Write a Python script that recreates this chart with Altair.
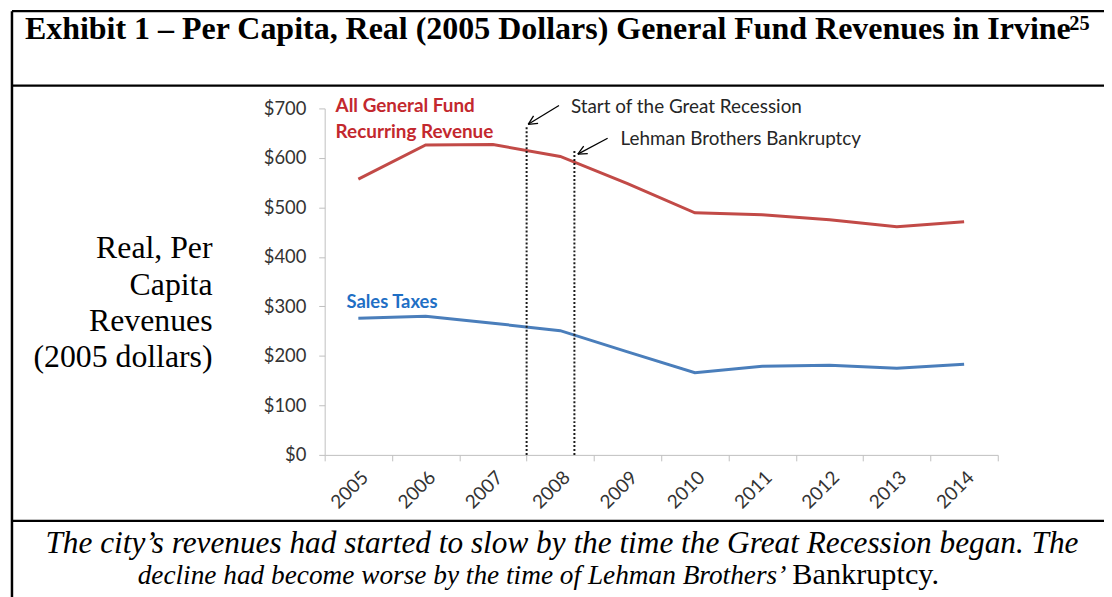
import math
import altair as alt
import pandas as pd

# ---------------- data ----------------
years = ["2005", "2006", "2007", "2008", "2009", "2010", "2011", "2012", "2013", "2014"]
general_fund = [557, 626, 627, 603, 548, 489, 485, 475, 461, 471]
sales_taxes = [276, 280, 266, 251, 208, 166, 179, 181, 175, 183]
series_names = ["All General Fund Recurring Revenue", "Sales Taxes"]
y_ticks = [0, 100, 200, 300, 400, 500, 600, 700]

event_names = ["Start of the Great Recession", "Lehman Brothers Bankruptcy"]
event_year = ["2008", "2008"]
event_band = [0.0, 0.71]      # fraction of the year
event_top = [662, 618]

title_text = "Exhibit 1 \u2013 Per Capita, Real (2005 Dollars) General Fund Revenues in Irvine"
title_note = "25"
ytitle_lines = ["Real, Per", "Capita", "Revenues", "(2005 dollars)"]
caption_1 = "The city\u2019s revenues had started to slow by the time the Great Recession began. The"
caption_2a = "decline had become worse by the time of Lehman Brothers\u2019"
caption_2b = "Bankruptcy."

# ---------------- layout ----------------
W, H = 678, 349
PL, PT = 319, 99
PR = 1104 - PL - W
PB = 589 - PT - H

RED, BLUE = "#C24A47", "#4A7EBB"
RED_T, BLUE_T = "#C3282E", "#1F6FC5"
SANS = "Lato"
SERIF = "Liberation Serif"

df = pd.DataFrame({
    "year": years * 2,
    "value": general_fund + sales_taxes,
    "series": [series_names[0]] * len(years) + [series_names[1]] * len(years),
})

xscale = alt.Scale(type="band", domain=years, paddingInner=0, paddingOuter=0)
yscale = alt.Scale(domain=[0, 700], nice=False)

lines = alt.Chart(df).mark_line(strokeWidth=3).encode(
    x=alt.X("year:O", scale=xscale, bandPosition=0.5,
            axis=alt.Axis(title=None, labelAngle=-45, tickBand="extent",
                          labelFont=SANS, labelFontSize=19, labelColor="#333333",
                          domainColor="#BFBFBF", tickColor="#BFBFBF", tickSize=6,
                          labelPadding=7, grid=False)),
    y=alt.Y("value:Q", scale=yscale,
            axis=alt.Axis(title=None, values=y_ticks, format="$,.0f",
                          labelFont=SANS, labelFontSize=18.5, labelColor="#333333",
                          domainColor="#BFBFBF", tickColor="#BFBFBF", tickSize=6,
                          labelPadding=13, grid=False)),
    color=alt.Color("series:N", scale=alt.Scale(domain=series_names, range=[RED, BLUE]), legend=None),
    detail="series:N",
)

layers = [lines]

for i in range(len(event_names)):
    edf = pd.DataFrame({"year": [event_year[i]], "bottom": [0], "top": [event_top[i]]})
    layers.append(
        alt.Chart(edf).mark_rule(strokeDash=[2, 2], strokeWidth=2, color="#1A1A1A").encode(
            x=alt.X("year:O", scale=xscale, bandPosition=event_band[i]),
            y=alt.Y("bottom:Q", scale=yscale),
            y2="top:Q",
        )
    )

one = pd.DataFrame({"a": [0]})


def seg(x1, y1, x2, y2, color="#000000", width=1.0):
    return alt.Chart(one).mark_rule(color=color, strokeWidth=width).encode(
        x=alt.value(x1), x2=alt.value(x2), y=alt.value(y1), y2=alt.value(y2))


def arrow(tail, tip, color="#000000"):
    out = [seg(tail[0], tail[1], tip[0], tip[1], color, 1.3)]
    dx, dy = tail[0] - tip[0], tail[1] - tip[1]
    L = math.hypot(dx, dy)
    ux, uy = dx / L, dy / L
    for a in (0.45, -0.45):
        rx = ux * math.cos(a) - uy * math.sin(a)
        ry = ux * math.sin(a) + uy * math.cos(a)
        out.append(seg(tip[0], tip[1], tip[0] + rx * 10, tip[1] + ry * 10, color, 1.3))
    return out


def txt(x, y, text, size, font=SANS, color="#000000", align="left", baseline="middle",
        weight="normal", style="normal", lineHeight=None):
    kw = dict(align=align, baseline=baseline, font=font, fontSize=size, color=color,
              fontWeight=weight, fontStyle=style)
    if lineHeight is not None:
        kw["lineHeight"] = lineHeight
    return alt.Chart(one).mark_text(**kw).encode(
        x=alt.value(x), y=alt.value(y), text=alt.value(text))


ox, oy = PL + 8, PT + 8  # plot origin in page pixels


def P(x, y):
    return (x - ox, y - oy)


# table frame
layers.append(seg(*P(12, 9), *P(1112, 9), width=2.5))
layers.append(seg(*P(12, 9), *P(12, 600), width=2.5))
layers.append(seg(*P(12, 84), *P(1112, 84), width=2.2))
layers.append(seg(*P(12, 522.5), *P(1112, 522.5), width=2.2))

# arrows
layers += arrow(P(563, 104), P(532, 123))
layers += arrow(P(612, 137), P(582, 153))

# annotation texts
layers.append(txt(*P(575, 106), event_names[0], 19, color="#262626"))
layers.append(txt(*P(625, 138), event_names[1], 19, color="#262626"))
layers.append(txt(*P(338, 105), ["All General Fund", "Recurring Revenue"], 19, color=RED_T,
                  weight="bold", lineHeight=26))
layers.append(txt(*P(349, 302), "Sales Taxes", 18.5, color=BLUE_T, weight="bold"))

# title, side title, caption
layers.append(txt(*P(25, 37), title_text, 32.2, font=SERIF, weight="bold", baseline="alphabetic"))
layers.append(txt(*P(1077, 28), title_note, 20.5, font=SERIF, weight="bold", align="left",
                  baseline="alphabetic"))
layers.append(txt(*P(214, 258), ytitle_lines, 32, font=SERIF, align="right",
                  baseline="alphabetic", lineHeight=36.5))
layers.append(txt(*P(566, 555), caption_1, 31.5, font=SERIF, style="italic", align="center",
                  baseline="alphabetic"))
layers.append(txt(*P(792, 586), caption_2a, 27.5, font=SERIF, style="italic", align="right",
                  baseline="alphabetic"))
layers.append(txt(*P(798, 586), caption_2b, 30.5, font=SERIF, align="left",
                  baseline="alphabetic"))

chart = alt.layer(*layers).properties(
    width=W, height=H,
    autosize=alt.AutoSizeParams(type="none"),
    padding={"left": PL, "top": PT, "right": PR, "bottom": PB},
    background="white",
).configure_view(stroke=None)

chart.save("out.html", embed_options={"renderer": "svg", "actions": False})
